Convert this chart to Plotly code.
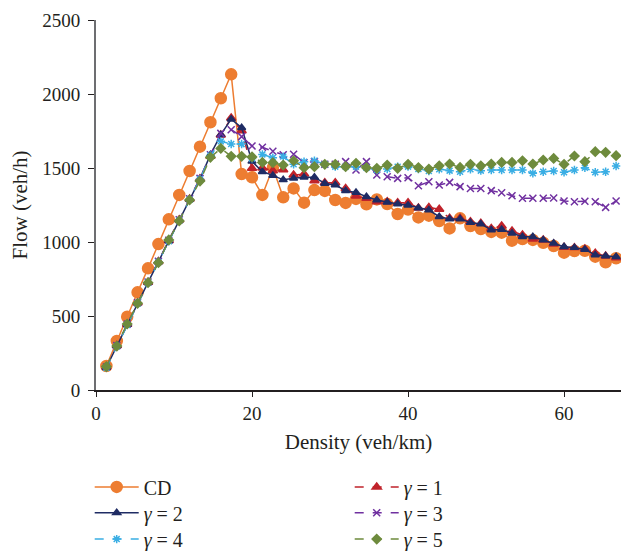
import plotly.graph_objects as go

density = [1.33, 2.67, 4.00, 5.33, 6.67, 8.00, 9.33, 10.67, 12.00, 13.33,
           14.67, 16.00, 17.33, 18.67, 20.00, 21.33, 22.67, 24.00, 25.33, 26.67,
           28.00, 29.33, 30.67, 32.00, 33.33, 34.67, 36.00, 37.33, 38.67, 40.00,
           41.33, 42.67, 44.00, 45.33, 46.67, 48.00, 49.33, 50.67, 52.00, 53.33,
           54.67, 56.00, 57.33, 58.67, 60.00, 61.33, 62.67, 64.00, 65.33, 66.67]

cd = [162, 331, 495, 660, 822, 986, 1153, 1318, 1480, 1644,
      1809, 1971, 2133, 1459, 1437, 1318, 1502, 1302, 1362, 1266,
      1351, 1345, 1284, 1264, 1291, 1255, 1288, 1257, 1189, 1219,
      1166, 1178, 1142, 1092, 1160, 1108, 1088, 1068, 1063, 1009,
      1020, 1014, 995, 973, 928, 939, 941, 901, 863, 890]

g1 = [155, 300, 445, 590, 728, 868, 1010, 1150, 1290, 1428,
      1580, 1723, 1838, 1752, 1498, 1500, 1482, 1488, 1453, 1459,
      1414, 1401, 1401, 1362, 1311, 1295, 1272, 1272, 1266, 1265,
      1230, 1234, 1221, 1160, 1160, 1137, 1126, 1092, 1108, 1074,
      1047, 1020, 1014, 986, 964, 962, 953, 924, 905, 894]

g2 = [152, 298, 443, 588, 727, 867, 1008, 1148, 1288, 1425,
      1590, 1725, 1830, 1772, 1545, 1475, 1450, 1420, 1430, 1437,
      1437, 1396, 1385, 1347, 1335, 1306, 1284, 1268, 1257, 1248,
      1230, 1216, 1171, 1155, 1155, 1131, 1122, 1081, 1085, 1059,
      1036, 1036, 1014, 991, 968, 962, 950, 912, 905, 901]

g3 = [155, 300, 445, 590, 730, 870, 1012, 1150, 1292, 1430,
      1590, 1734, 1759, 1712, 1649, 1640, 1613, 1590, 1593, 1536,
      1543, 1525, 1525, 1543, 1486, 1543, 1453, 1441, 1430, 1434,
      1380, 1407, 1385, 1403, 1374, 1362, 1362, 1347, 1333, 1313,
      1295, 1295, 1295, 1297, 1277, 1272, 1275, 1272, 1234, 1277]

g4 = [150, 295, 440, 585, 725, 865, 1005, 1145, 1287, 1425,
      1585, 1680, 1662, 1662, 1565, 1592, 1570, 1577, 1525, 1543,
      1549, 1525, 1509, 1509, 1509, 1502, 1486, 1493, 1509, 1509,
      1493, 1480, 1491, 1482, 1475, 1491, 1482, 1486, 1486, 1486,
      1486, 1464, 1475, 1480, 1471, 1486, 1502, 1471, 1475, 1514]

g5 = [158, 297, 446, 586, 725, 860, 1014, 1142, 1284, 1412,
      1572, 1632, 1579, 1579, 1575, 1538, 1536, 1520, 1549, 1502,
      1509, 1525, 1525, 1509, 1532, 1502, 1498, 1520, 1498, 1525,
      1503, 1493, 1515, 1527, 1504, 1525, 1515, 1527, 1538, 1538,
      1549, 1527, 1554, 1565, 1525, 1581, 1543, 1610, 1606, 1583]

y_ticks = [0, 500, 1000, 1500, 2000, 2500]
x_ticks = [0, 20, 40, 60]

# name, values, color, dash, symbol, size, legend row
series = [
    ("CD", cd, "#ED7D31", "solid", "circle", 11, "legend"),
    ("<i>γ</i> = 1", g1, "#C0232B", "dash", "triangle-up", 8, "legend"),
    ("<i>γ</i> = 2", g2, "#1F2C64", "solid", "triangle-up", 7, "legend2"),
    ("<i>γ</i> = 3", g3, "#7030A0", "dash", "x-thin-open", 7, "legend2"),
    ("<i>γ</i> = 4", g4, "#3AAEE4", "dash", "asterisk-open", 7, "legend3"),
    ("<i>γ</i> = 5", g5, "#6E8B3D", "dash", "diamond", 7, "legend3"),
]

fig = go.Figure()
for name, vals, color, dash, sym, size, leg in series:
    fig.add_trace(go.Scatter(
        x=density, y=vals, name=name, mode="lines+markers",
        line=dict(color=color, width=1.5, dash=dash),
        marker=dict(symbol=sym, size=size, color=color,
                    line=dict(color=color, width=1.5)),
        legend=leg,
    ))

font_family = "Liberation Serif, Times New Roman, serif"


def legend_row(yv):
    return dict(orientation="h", x=-0.012, y=yv, xanchor="left", yanchor="middle",
                entrywidth=201, entrywidthmode="pixels",
                font=dict(size=20), tracegroupgap=0, itemwidth=44,
                bgcolor="rgba(0,0,0,0)")


fig.update_layout(
    width=621, height=551,
    margin=dict(l=96, r=0, t=20, b=161, autoexpand=False),
    paper_bgcolor="white", plot_bgcolor="white",
    font=dict(family=font_family, size=19, color="#231f20"),
    showlegend=True,
    legend=legend_row(-0.262),
    legend2=legend_row(-0.332),
    legend3=legend_row(-0.403),
    xaxis=dict(range=[0, 67.3], tickvals=x_ticks, showgrid=False, zeroline=False,
               showline=True, linecolor="#231f20", linewidth=1.5,
               ticks="outside", ticklen=5, tickcolor="#231f20",
               tickfont=dict(size=19),
               title=dict(text="Density (veh/km)", standoff=12, font=dict(size=21))),
    yaxis=dict(range=[0, 2500], tickvals=y_ticks, showgrid=False, zeroline=False,
               showline=True, linecolor="#6d6e71", linewidth=2,
               ticks="outside", ticklen=6, tickcolor="#231f20",
               ticklabelstandoff=4, tickfont=dict(size=19),
               title=dict(text="Flow (veh/h)", standoff=9, font=dict(size=21))),
)

fig.write_html("out.html", config={"displayModeBar": False},
               post_script="document.body.style.margin='0px';document.body.style.overflow='hidden';")
